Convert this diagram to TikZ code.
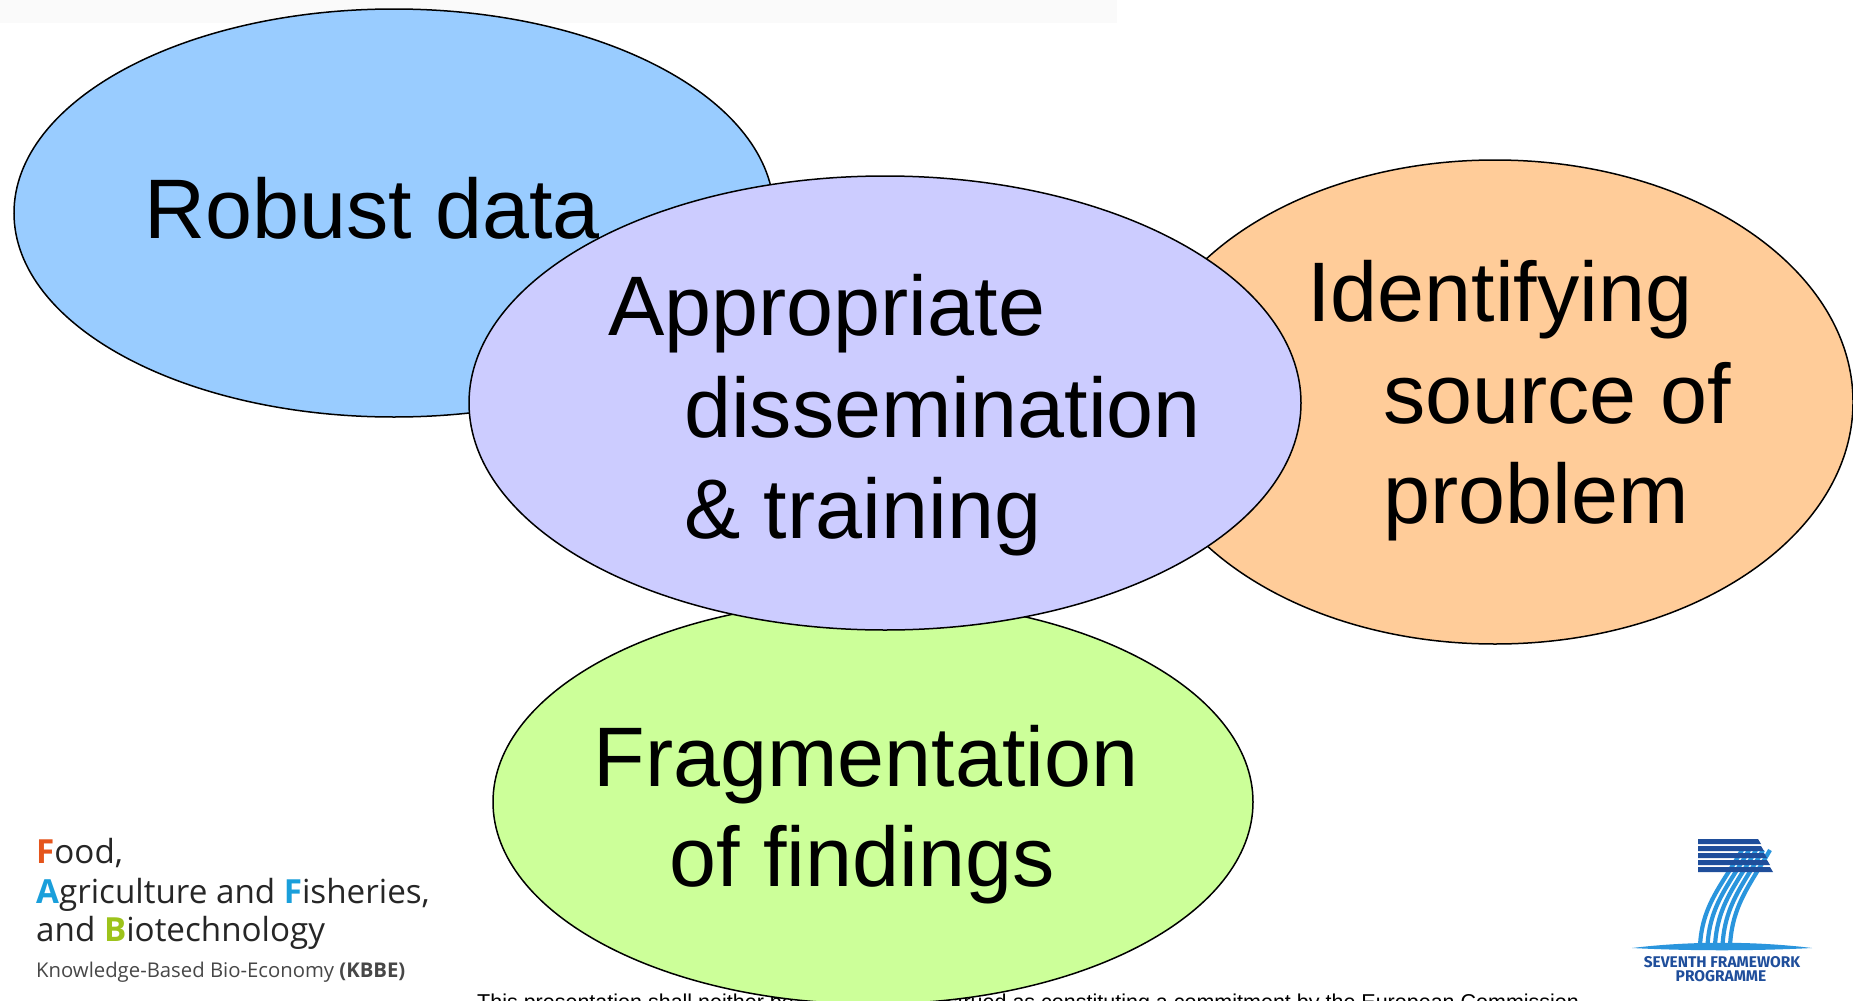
\documentclass[tikz,border=0pt]{standalone}
\usepackage{fontspec}
\setmainfont{Liberation Sans}
\newfontfamily\logofont{Open Sans}
\newfontfamily\fpfont{Fira Sans}
\definecolor{cblue}{HTML}{99CCFF}
\definecolor{cpurple}{HTML}{CCCCFF}
\definecolor{corange}{HTML}{FFCC99}
\definecolor{cgreen}{HTML}{CCFF99}
\definecolor{lgF}{HTML}{E5541B}
\definecolor{lgA}{HTML}{1A9FDB}
\definecolor{lgB}{HTML}{9DC31B}
\definecolor{lgtext}{HTML}{262626}
\definecolor{fpdark}{HTML}{1F4E9B}
\definecolor{fplight}{HTML}{2A95DD}
\tikzset{
  bubble/.style={draw=black, line width=1.5pt},
  bigtext/.style={inner sep=0pt, font=\fontsize{84.5}{100}\selectfont},
  logotext/.style={inner sep=0pt, anchor=base west, text=lgtext, font=\logofont\fontsize{33.2}{36}\selectfont},
  fptext/.style={inner sep=0pt, anchor=base, text=fpdark, font=\fpfont\bfseries\fontsize{15.5}{18}\selectfont},
  fpstripe/.style={draw=fplight, line width=4.2pt},
  fpbar/.style={fill=fpdark}
}
\begin{document}
\begin{tikzpicture}[x=1pt,y=-1pt]
\useasboundingbox (0,0) rectangle (1853,1001);
\fill[white] (0,0) rectangle (1853,1001);
\fill[black!2] (0,0) rectangle (1117,23);

% disclaimer text (partly hidden behind green ellipse)
\node[inner sep=0pt, anchor=base west, font=\fontsize{21.5}{24}\selectfont] (disc) at (477,1009)
  {This presentation shall neither be binding nor construed as constituting a commitment by the European Commission};

% blue
\draw[bubble, fill=cblue] (394,213) ellipse [x radius=380, y radius=204];
\node[bigtext, anchor=base west] (robust) at (144,238) {Robust data};

% orange
\draw[bubble, fill=corange] (1495,402) ellipse [x radius=358, y radius=242];
\node[bigtext, anchor=base west] (ident1) at (1307,321) {Identifying};
\node[bigtext, anchor=base west] (ident2) at (1383,423) {source of};
\node[bigtext, anchor=base west] (ident3) at (1383,523) {problem};

% green
\draw[bubble, fill=cgreen] (873,802) ellipse [x radius=380, y radius=202];
\node[bigtext, anchor=base] (frag1) at (866,786) {Fragmentation};
\node[bigtext, anchor=base] (frag2) at (862,886) {of findings};

% purple
\draw[bubble, fill=cpurple] (885,403) ellipse [x radius=416, y radius=227];
\node[bigtext, anchor=base west] (appr1) at (608,335) {Appropriate};
\node[bigtext, anchor=base west] (appr2) at (684,437) {dissemination};
\node[bigtext, anchor=base west] (appr3) at (684,538) {\& training};

% left logo
\node[logotext] (lg1) at (36,863) {\textcolor{lgF}{\textbf{F}}ood,};
\node[logotext] (lg2) at (36,903) {\textcolor{lgA}{\textbf{A}}griculture and \textcolor{lgA}{\textbf{F}}isheries,};
\node[logotext] (lg3) at (36,941) {and \textcolor{lgB}{\textbf{B}}iotechnology};
\node[logotext, text=black!72, font=\logofont\fontsize{20.3}{24}\selectfont] (lg4) at (36,977)
  {Knowledge-Based Bio-Economy \textbf{(KBBE)}};

% FP7 logo
\foreach \i in {0,...,4}{
  \draw[fpstripe] ({1742+7*\i},850) .. controls ({1722+7*\i},885) and ({1702+7.5*\i},905) .. ({1700+7.5*\i},946);
}
\foreach \i in {0,...,4}{
  \fill[fpbar] (1698,{839+7*\i}) -- ({1758+3*\i},{839+7*\i}) -- ({1761+3*\i},{844+7*\i}) -- (1698,{844+7*\i}) -- cycle;
}
\fill[fplight] (1632,948) .. controls (1690,941) and (1754,941) .. (1812,948)
  .. controls (1754,951) and (1690,951) .. (1632,948) -- cycle;
\node[fptext] (fp1) at (1722,967) {SEVENTH FRAMEWORK};
\node[fptext] (fp2) at (1721,981) {PROGRAMME};
\end{tikzpicture}
\end{document}
